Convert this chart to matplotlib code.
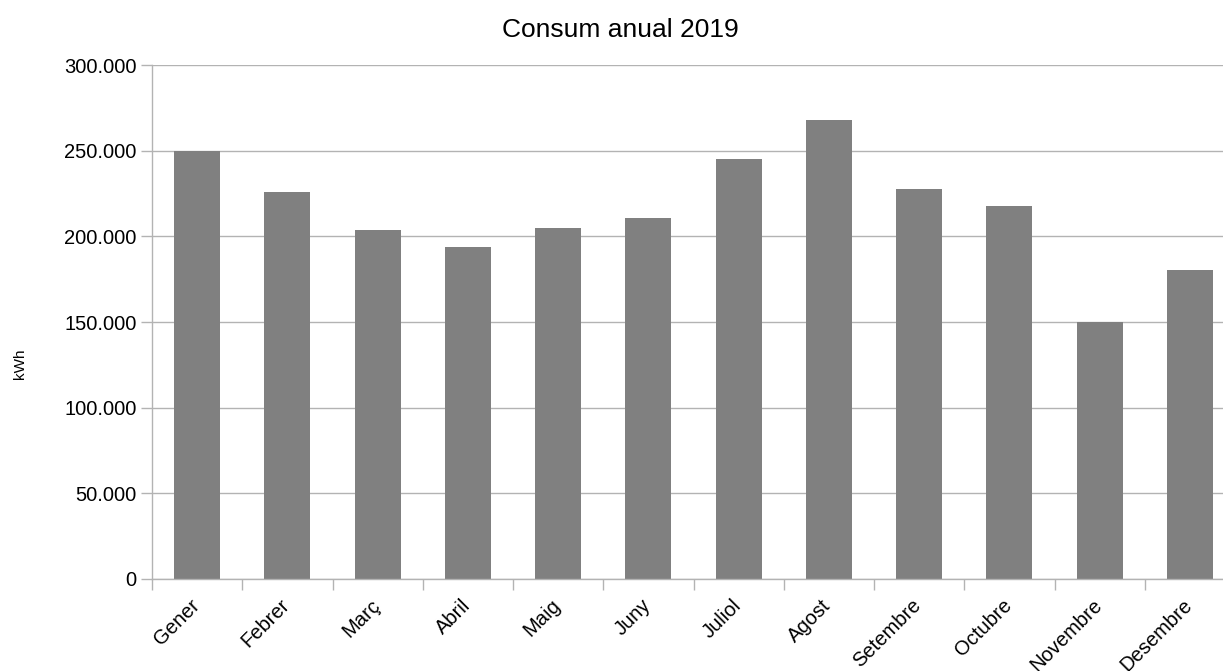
import matplotlib
matplotlib.use("Agg")
import matplotlib.pyplot as plt
import matplotlib.transforms as mtransforms
from matplotlib.ticker import FuncFormatter, FixedLocator
import numpy as np

plt.rcParams['font.family'] = ['Liberation Sans', 'DejaVu Sans']

months = ["Gener", "Febrer", "Març", "Abril", "Maig", "Juny", "Juliol",
          "Agost", "Setembre", "Octubre", "Novembre", "Desembre"]
consum = [250000, 226000, 204000, 194000, 205000, 211000, 245000,
          268000, 228000, 218000, 150000, 180500]
yticks = [0, 50000, 100000, 150000, 200000, 250000, 300000]

W, H = 1223, 671
fig = plt.figure(figsize=(W / 100, H / 100), dpi=100)
left, right, bottom, top = 152, 1235, 578.7, 65.3
ax = fig.add_axes([left / W, (H - bottom) / H, (right - left) / W, (bottom - top) / H])

x = np.arange(len(months))
ax.bar(x, consum, width=0.51, color="#808080", zorder=2)

ax.set_xlim(-0.5, len(months) - 0.5)
ax.set_ylim(0, 300000)
ax.set_yticks(yticks)
ax.yaxis.set_major_formatter(FuncFormatter(lambda v, p: f"{int(v):,}".replace(",", ".")))
ax.grid(axis="y", color="#b3b3b3", linewidth=1, zorder=0)

ax.xaxis.set_major_locator(FixedLocator(np.arange(len(months) + 1) - 0.5))
ax.set_xticklabels([], minor=False)
ax.set_xticks(x, minor=True)
ax.set_xticklabels(months, minor=True, rotation=45, ha="right", fontsize=14.5)
ax.tick_params(axis="x", which="major", length=8, color="#b3b3b3", width=1)
ax.tick_params(axis="x", which="minor", length=0, pad=13)
ax.tick_params(axis="y", length=8, color="#b3b3b3", width=1, labelsize=14.5, pad=3)

offset = mtransforms.ScaledTranslation(6 / 100, 1 / 100, fig.dpi_scale_trans)
for lbl in ax.xaxis.get_minorticklabels():
    lbl.set_transform(lbl.get_transform() + offset)

for s in ["top", "right"]:
    ax.spines[s].set_visible(False)
for s in ["left", "bottom"]:
    ax.spines[s].set_color("#b3b3b3")
    ax.spines[s].set_linewidth(1)

fig.text(620 / W, 1 - 30 / H, "Consum anual 2019", ha="center", va="center", fontsize=19)
fig.text(20 / W, 1 - 364 / H, "kWh", ha="center", va="center", rotation=90, fontsize=11)

fig.savefig("out.png", dpi=100)
